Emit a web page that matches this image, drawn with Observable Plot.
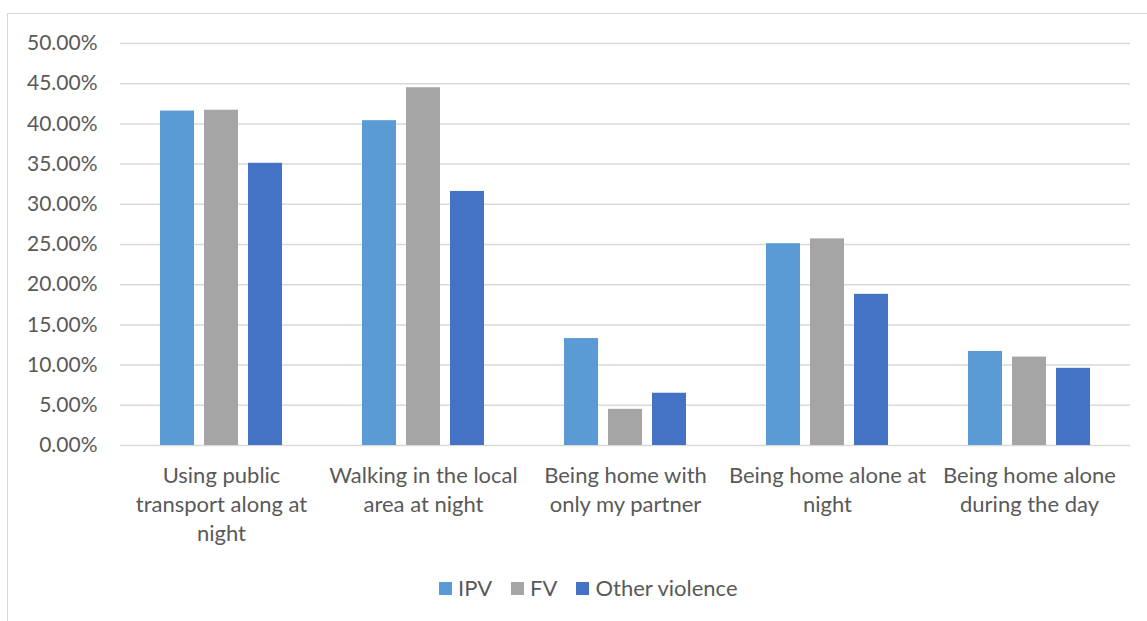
<!DOCTYPE html>
<html>
<head>
<meta charset="utf-8">
<script src="https://cdn.jsdelivr.net/npm/d3@7"></script>
<script src="https://cdn.jsdelivr.net/npm/@observablehq/plot@0.6"></script>
<style>
  html, body { margin: 0; padding: 0; background: #fff; overflow: hidden; }
  body { width: 1147px; height: 621px; position: relative; font-family: Lato, "Open Sans", sans-serif; }
  #frame { position: absolute; left: 7px; top: 13px; width: 1200px; height: 700px;
           border-left: 1.5px solid #d9d9d9; border-top: 1.5px solid #d9d9d9; }
  #chart { position: absolute; left: 0; top: 0; }
  #legend { position: absolute; left: 439px; top: 574px; display: flex; align-items: center;
            font-size: 22px; line-height: 28px; color: #595959; }
  #legend .item { display: flex; align-items: center; margin-right: 19px; }
  #legend .sw { width: 13px; height: 13px; margin-right: 6px; }
</style>
</head>
<body>
<div id="frame"></div>
<div id="chart"></div>
<div id="legend"></div>
<script>
const categories = [
  "Using public transport along at night",
  "Walking in the local area at night",
  "Being home with only my partner",
  "Being home alone at night",
  "Being home alone during the day"
];
const categoryLabels = [
  "Using public\ntransport along at\nnight",
  "Walking in the local\narea at night",
  "Being home with\nonly my partner",
  "Being home alone at\nnight",
  "Being home alone\nduring the day"
];
const series = ["IPV", "FV", "Other violence"];
const ipv   = [41.6, 40.4, 13.3, 25.1, 11.7];
const fv    = [41.7, 44.5, 4.5, 25.7, 11.0];
const other = [35.1, 31.6, 6.5, 18.8, 9.6];
const colors = ["#5b9bd5", "#a5a5a5", "#4472c4"];
const yTicks = [0, 5, 10, 15, 20, 25, 30, 35, 40, 45, 50];

const values = [ipv, fv, other];
const data = [];
categories.forEach((c, i) => {
  series.forEach((s, j) => data.push({category: c, series: s, value: values[j][i]}));
});

const chart = Plot.plot({
  width: 1147,
  height: 560,
  marginLeft: 119,
  marginRight: 16,
  marginTop: 43,
  marginBottom: 115,
  style: {background: "transparent", fontFamily: "Lato, 'Open Sans', sans-serif", fontSize: "21px", color: "#595959"},
  fx: {domain: categories, padding: 0},
  x: {domain: series, paddingInner: 0.222, paddingOuter: 0.86, axis: null},
  y: {domain: [0, 50]},
  color: {domain: series, range: colors},
  marks: [
    Plot.gridY(yTicks, {stroke: "#d9d9d9", strokeOpacity: 1, strokeWidth: 1.5}),
    Plot.barY(data, {fx: "category", x: "series", y: "value", fill: "series"}),
    Plot.axisY({ticks: yTicks, tickSize: 0, tickPadding: 23, tickFormat: d => d.toFixed(2) + "%", label: null, fontSize: 21}),
    Plot.axisFx({anchor: "bottom", tickSize: 0, tickPadding: 17, label: null, fontSize: 22, lineHeight: 1.32,
                 tickFormat: d => categoryLabels[categories.indexOf(d)]})
  ]
});
document.getElementById("chart").appendChild(chart);

const legend = document.getElementById("legend");
series.forEach((s, i) => {
  const item = document.createElement("div");
  item.className = "item";
  const sw = document.createElement("span");
  sw.className = "sw";
  sw.style.background = colors[i];
  const t = document.createElement("span");
  t.textContent = s;
  item.appendChild(sw); item.appendChild(t);
  legend.appendChild(item);
});
</script>
</body>
</html>
